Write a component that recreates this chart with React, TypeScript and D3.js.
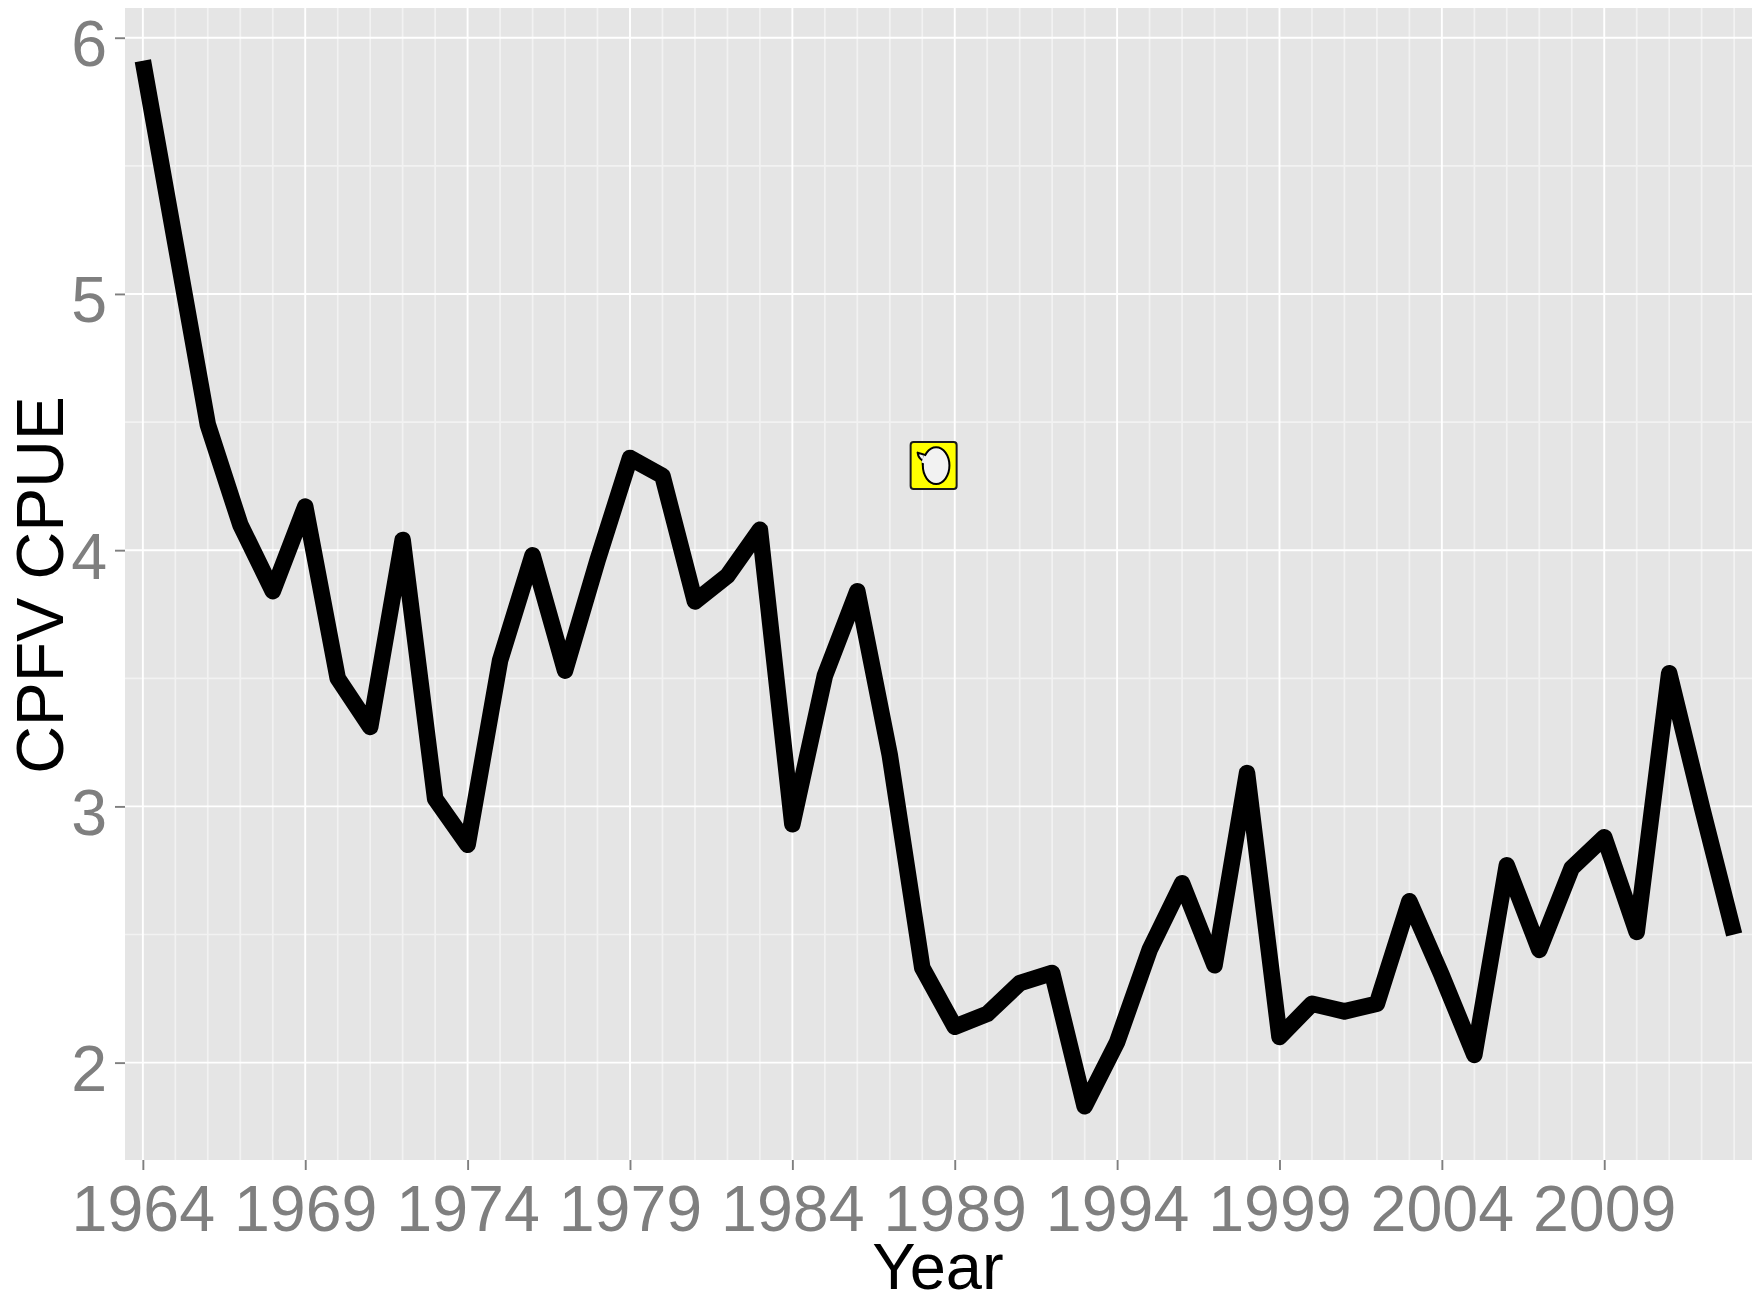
import React, { useEffect, useRef } from "react";
import { select, scaleLinear, axisLeft, axisBottom, line, range, curveLinear } from "d3";

const years = range(1964, 2014);
const cpue = [
  5.91, 5.2, 4.49, 4.1, 3.84, 4.17, 3.5, 3.31, 4.04, 3.03,
  2.85, 3.57, 3.98, 3.53, 3.96, 4.36, 4.29, 3.8, 3.9, 4.08,
  2.93, 3.51, 3.84, 3.2, 2.37, 2.14, 2.19, 2.31, 2.35, 1.83,
  2.08, 2.44, 2.7, 2.38, 3.13, 2.1, 2.23, 2.2, 2.23, 2.63,
  2.34, 2.03, 2.77, 2.44, 2.76, 2.88, 2.51, 3.52, 3.0, 2.5,
];
const xTickYears = [1964, 1969, 1974, 1979, 1984, 1989, 1994, 1999, 2004, 2009];
const yTicks = [2, 3, 4, 5, 6];
const yMinorTicks = [2.5, 3.5, 4.5, 5.5];
const iconPoint = { year: 1988.35, value: 4.33 };

const width = 1753;
const height = 1307;
const margin = { left: 125, top: 8, right: 1, bottom: 147 };
const fontFamily = "'Liberation Sans', Arial, sans-serif";

export default function App() {
  const ref = useRef<SVGSVGElement>(null);

  useEffect(() => {
    const svg = select(ref.current);
    svg.selectAll("*").remove();
    const innerWidth = width - margin.left - margin.right;
    const innerHeight = height - margin.top - margin.bottom;

    const xScale = scaleLinear().domain([1963.45, 2013.55]).range([0, innerWidth]);
    const yScale = scaleLinear().domain([1.62, 6.116]).range([innerHeight, 0]);

    const g = svg.append("g").attr("transform", `translate(${margin.left},${margin.top})`);
    g.append("rect").attr("width", innerWidth).attr("height", innerHeight).attr("fill", "#e5e5e5");

    // minor grid first, major on top
    g.selectAll(".minor-y").data(yMinorTicks).enter().append("line")
      .attr("x1", 0).attr("x2", innerWidth)
      .attr("y1", (d) => yScale(d)).attr("y2", (d) => yScale(d))
      .attr("stroke", "#f2f2f2").attr("stroke-width", 1.7);
    g.selectAll(".minor-x").data(years.filter((y) => !xTickYears.includes(y))).enter().append("line")
      .attr("y1", 0).attr("y2", innerHeight)
      .attr("x1", (d) => xScale(d)).attr("x2", (d) => xScale(d))
      .attr("stroke", "#f2f2f2").attr("stroke-width", 1.7);
    g.selectAll(".major-y").data(yTicks).enter().append("line")
      .attr("x1", 0).attr("x2", innerWidth)
      .attr("y1", (d) => yScale(d)).attr("y2", (d) => yScale(d))
      .attr("stroke", "#ffffff").attr("stroke-width", 1.9);
    g.selectAll(".major-x").data(xTickYears).enter().append("line")
      .attr("y1", 0).attr("y2", innerHeight)
      .attr("x1", (d) => xScale(d)).attr("x2", (d) => xScale(d))
      .attr("stroke", "#ffffff").attr("stroke-width", 1.9);

    const xAxis = axisBottom(xScale)
      .tickValues(xTickYears)
      .tickFormat((d) => String(d))
      .tickSize(10)
      .tickPadding(15);
    const yAxis = axisLeft(yScale)
      .tickValues(yTicks)
      .tickFormat((d) => String(d))
      .tickSize(10)
      .tickPadding(8);

    const xAxisG = g.append("g").attr("transform", `translate(0,${innerHeight})`).call(xAxis);
    const yAxisG = g.append("g").call(yAxis);
    [xAxisG, yAxisG].forEach((a) => {
      a.select(".domain").remove();
      a.selectAll("line").attr("stroke", "#7f7f7f").attr("stroke-width", 1.9);
      a.selectAll("text")
        .attr("fill", "#7f7f7f")
        .attr("font-family", fontFamily)
        .attr("font-size", 64.5);
    });
    yAxisG.selectAll("text").attr("dy", 28);

    const path = line<number>()
      .x((_, i) => xScale(years[i]))
      .y((d) => yScale(d))
      .curve(curveLinear);
    g.append("path")
      .attr("d", path(cpue))
      .attr("fill", "none")
      .attr("stroke", "#000000")
      .attr("stroke-width", 16.5)
      .attr("stroke-linejoin", "round")
      .attr("stroke-linecap", "butt");

    // small speech bubble icon
    const icon = g.append("g").attr(
      "transform",
      `translate(${xScale(iconPoint.year)},${yScale(iconPoint.value)})`
    );
    icon.append("rect")
      .attr("x", -23).attr("y", -23.5).attr("width", 46).attr("height", 47).attr("rx", 3)
      .attr("fill", "#ffff00").attr("stroke", "#1a1a1a").attr("stroke-width", 2);
    icon.append("path")
      .attr("d", "M-8.5,-10.7 L-16,-13 C-15.5,-9 -13.5,-6.5 -11,-5 L-10.8,-1 Z")
      .attr("fill", "#f2f2f2").attr("stroke", "#000").attr("stroke-width", 2).attr("stroke-linejoin", "round");
    icon.append("ellipse")
      .attr("cx", 2.5).attr("cy", 0).attr("rx", 13.3).attr("ry", 18.3)
      .attr("fill", "#f2f2f2").attr("stroke", "#000").attr("stroke-width", 2);
    icon.append("path")
      .attr("d", "M-8.2,-9.5 L-10.4,-2.5")
      .attr("stroke", "#f2f2f2").attr("stroke-width", 3.5).attr("fill", "none");

    svg.append("text")
      .text("Year")
      .attr("x", 938)
      .attr("y", 1289)
      .attr("text-anchor", "middle")
      .attr("font-family", fontFamily)
      .attr("font-size", 65)
      .attr("fill", "#000");
    svg.append("text")
      .text("CPFV CPUE")
      .attr("transform", "translate(62.7,585) rotate(-90)")
      .attr("text-anchor", "middle")
      .attr("font-family", fontFamily)
      .attr("font-size", 66)
      .attr("fill", "#000");
  }, []);

  return (
    <svg
      ref={ref}
      width={width}
      height={height}
      style={{ position: "absolute", left: 0, top: 0, background: "#fff" }}
    />
  );
}
